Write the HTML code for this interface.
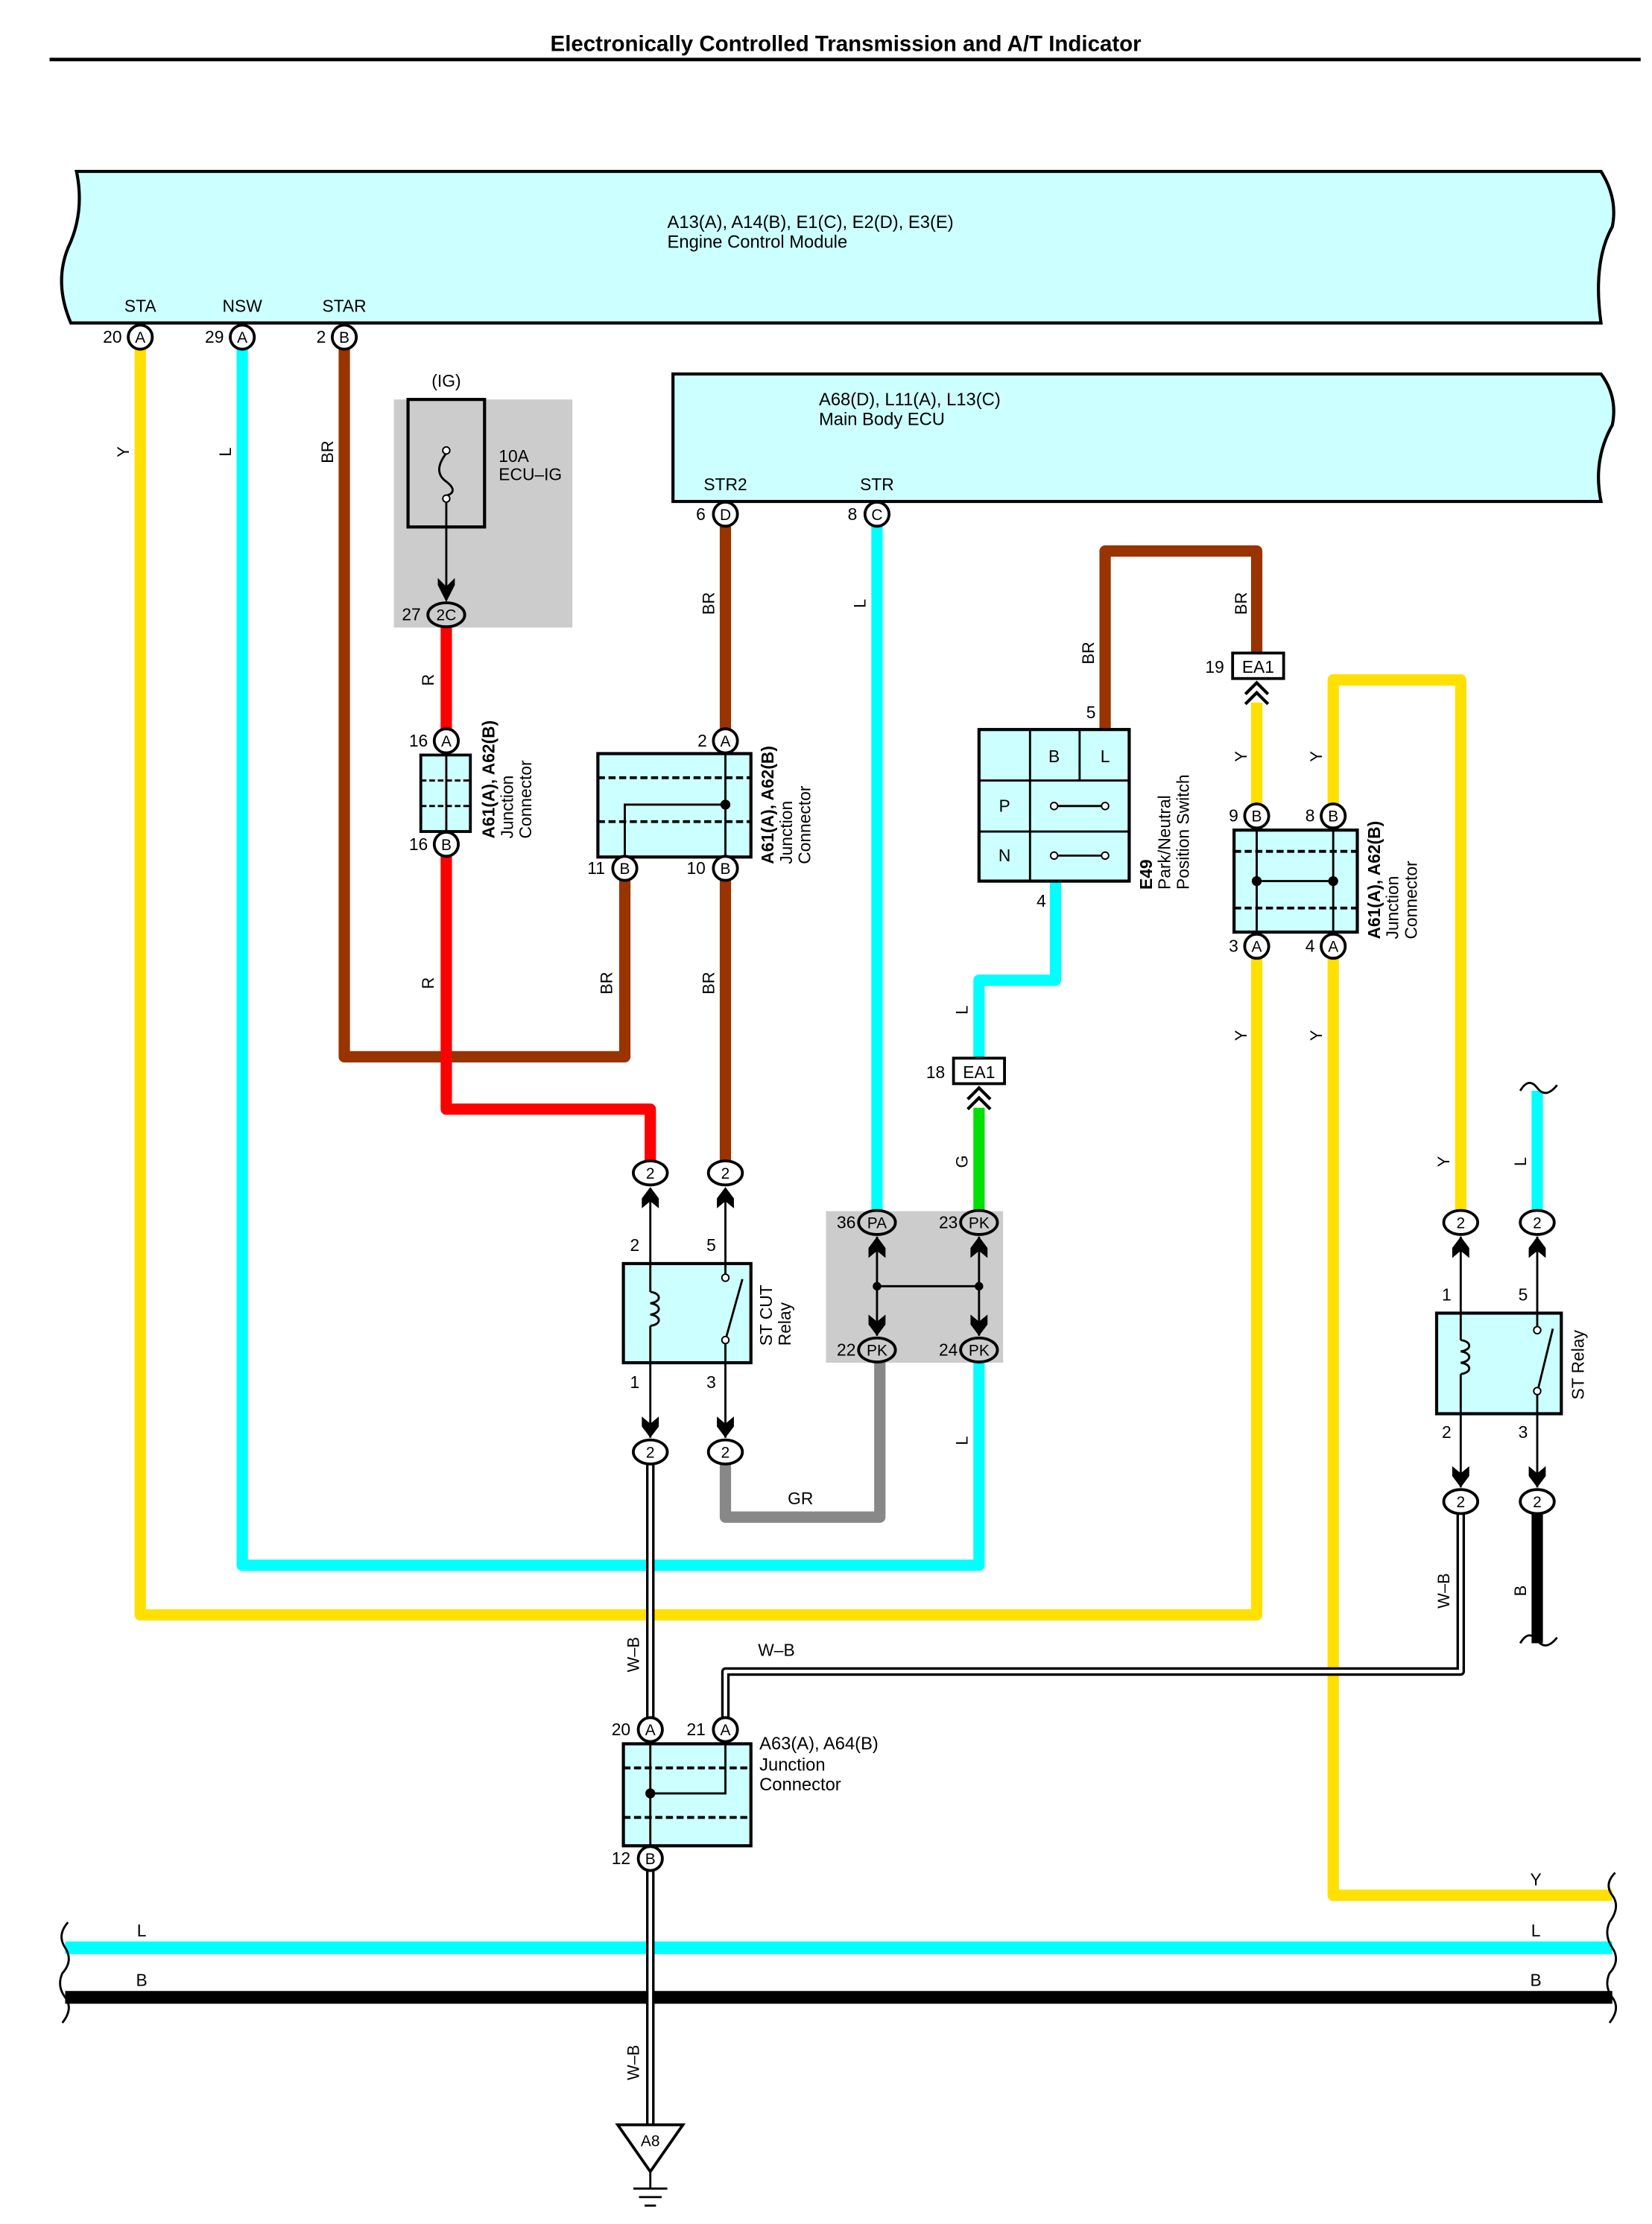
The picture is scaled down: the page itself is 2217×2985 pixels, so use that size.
<!DOCTYPE html>
<html><head><meta charset="utf-8"><style>
html,body{margin:0;padding:0;background:#fff}
svg{display:block}
text{font-family:"Liberation Sans",sans-serif;fill:#000}
</style></head><body>
<svg width="2217" height="2985" viewBox="0 0 1166 1570" preserveAspectRatio="none" xmlns="http://www.w3.org/2000/svg">
<rect width="1166" height="1570" fill="#fff"/>
<text x="597" y="36" font-size="15.5" font-weight="bold" text-anchor="middle">Electronically Controlled Transmission and A/T Indicator</text>
<line x1="35" y1="42" x2="1158" y2="42" stroke="#000" stroke-width="2.5"/>

<path d="M54,121 L1130,121 Q1142,140 1138,160 Q1124,185 1130,228 L50,228 Q38,200 48,175 Q60,150 54,121 Z" fill="#ccffff" stroke="#000" stroke-width="2.2"/>
<text x="471" y="161" font-size="12.5">A13(A), A14(B), E1(C), E2(D), E3(E)</text>
<text x="471" y="175" font-size="12.5">Engine Control Module</text>
<text x="99" y="220" font-size="12" text-anchor="middle">STA</text>
<text x="171" y="220" font-size="12" text-anchor="middle">NSW</text>
<text x="243" y="220" font-size="12" text-anchor="middle">STAR</text>

<path d="M475,264 L1130,264 Q1142,280 1138,300 Q1124,325 1130,354 L475,354 Z" fill="#ccffff" stroke="#000" stroke-width="2.2"/>
<text x="578" y="286" font-size="12.5">A68(D), L11(A), L13(C)</text>
<text x="578" y="300" font-size="12.5">Main Body ECU</text>
<text x="512" y="346" font-size="12" text-anchor="middle">STR2</text>
<text x="619" y="346" font-size="12" text-anchor="middle">STR</text>

<rect x="278" y="282" width="126" height="161" fill="#cccccc"/>
<rect x="583" y="855" width="125" height="107" fill="#cccccc"/>

<g fill="none" stroke-linejoin="round" stroke-linecap="butt">
<polyline points="99,246 99,1140 887,1140 887,676" stroke="#ffe000" stroke-width="8"/>
<polyline points="171,246 171,1105 691,1105 691,961" stroke="#00ffff" stroke-width="8"/>
<polyline points="243,246 243,746 441,746 441,621" stroke="#993300" stroke-width="8"/>
<polyline points="315,442 315,515" stroke="#ff0000" stroke-width="8"/>
<polyline points="315,604 315,783 459,783 459,820" stroke="#ff0000" stroke-width="8"/>
<line x1="512" y1="371" x2="512" y2="515" stroke="#993300" stroke-width="8"/>
<line x1="512" y1="621" x2="512" y2="820" stroke="#993300" stroke-width="8"/>
<line x1="619" y1="371" x2="619" y2="855" stroke="#00ffff" stroke-width="8"/>
<polyline points="745,622 745,692 691,692 691,748" stroke="#00ffff" stroke-width="8"/>
<line x1="691" y1="782" x2="691" y2="855" stroke="#00e000" stroke-width="8"/>
<polyline points="780,515 780,389 887,389 887,462" stroke="#993300" stroke-width="8"/>
<line x1="887" y1="496" x2="887" y2="568" stroke="#ffe000" stroke-width="8"/>
<polyline points="941,568 941,480 1031,480 1031,855" stroke="#ffe000" stroke-width="8"/>
<polyline points="941,676 941,1338 1138,1338" stroke="#ffe000" stroke-width="8"/>
<line x1="1085" y1="770" x2="1085" y2="855" stroke="#00ffff" stroke-width="8"/>
<line x1="1085" y1="1068" x2="1085" y2="1160" stroke="#000" stroke-width="8"/>
<polyline points="512,1033 512,1071 621,1071 621,961" stroke="#888888" stroke-width="8"/>
<line x1="46" y1="1375" x2="1138" y2="1375" stroke="#00ffff" stroke-width="9"/>
<line x1="46" y1="1410" x2="1138" y2="1410" stroke="#000" stroke-width="9"/>
<polyline points="459,1033 459,1212" stroke="#000" stroke-width="6"/>
<polyline points="459,1033 459,1212" stroke="#fff" stroke-width="2.5"/>
<polyline points="459,1320 459,1500" stroke="#000" stroke-width="6"/>
<polyline points="459,1320 459,1500" stroke="#fff" stroke-width="2.5"/>
<polyline points="1031,1068 1031,1180 512,1180 512,1212" stroke="#000" stroke-width="6"/>
<polyline points="1031,1068 1031,1180 512,1180 512,1212" stroke="#fff" stroke-width="2.5"/>
</g>

<g fill="none" stroke="#000" stroke-width="1.5">
<path d="M48,1357 Q40,1366 46,1375 Q52,1384 44,1393 Q40,1402 46,1410 Q52,1418 44,1428"/>
<path d="M1140,1322 Q1132,1330 1138,1338 Q1144,1346 1136,1357 Q1132,1366 1138,1375 Q1144,1384 1136,1393 Q1132,1402 1138,1410 Q1144,1418 1136,1428"/>
<path d="M1073,770 Q1079,760 1085,768 Q1091,776 1099,766"/>
<path d="M1073,1160 Q1079,1150 1085,1158 Q1091,1166 1099,1156"/>
</g>

<rect x="288" y="282" width="54" height="90" fill="none" stroke="#000" stroke-width="2.2"/>
<path d="M315,320 Q305,333 315,340 Q324,347 315,350" fill="none" stroke="#000" stroke-width="1.5"/>
<circle cx="315" cy="318" r="2.5" fill="#fff" stroke="#000"/><circle cx="315" cy="352" r="2.5" fill="#fff" stroke="#000"/>
<line x1="315" y1="355" x2="315" y2="420" stroke="#000" stroke-width="1.5"/>
<polygon points="315,425 309,413 309,408 315,414 321,408 321,413" fill="#000"/>
<text x="315" y="273" font-size="12" text-anchor="middle">(IG)</text>
<text x="352" y="326" font-size="12">10A</text>
<text x="352" y="339" font-size="12">ECU–IG</text>

<rect x="297" y="533" width="35" height="54" fill="#ccffff" stroke="#000" stroke-width="2"/>
<line x1="315" y1="533" x2="315" y2="587" stroke="#000" stroke-width="1.5"/>
<line x1="297" y1="551" x2="332" y2="551" stroke="#000" stroke-width="1.5" stroke-dasharray="4,2"/>
<line x1="297" y1="569" x2="332" y2="569" stroke="#000" stroke-width="1.5" stroke-dasharray="4,2"/>

<rect x="422" y="532" width="108" height="73" fill="#ccffff" stroke="#000" stroke-width="2.2"/>
<line x1="422" y1="549" x2="530" y2="549" stroke="#000" stroke-width="2" stroke-dasharray="5,2.5"/>
<line x1="422" y1="580" x2="530" y2="580" stroke="#000" stroke-width="2" stroke-dasharray="5,2.5"/>
<polyline points="512,532 512,605" fill="none" stroke="#000" stroke-width="1.5"/>
<polyline points="512,568 441,568 441,605" fill="none" stroke="#000" stroke-width="1.5"/>
<circle cx="512" cy="568" r="3.5" fill="#000"/>

<rect x="691" y="515" width="106" height="107" fill="#ccffff" stroke="#000" stroke-width="2.2"/>
<line x1="727" y1="515" x2="727" y2="622" stroke="#000" stroke-width="1.5"/>
<line x1="762" y1="515" x2="762" y2="551" stroke="#000" stroke-width="1.5"/>
<line x1="691" y1="551" x2="797" y2="551" stroke="#000" stroke-width="1.5"/>
<line x1="691" y1="587" x2="797" y2="587" stroke="#000" stroke-width="1.5"/>
<text x="744" y="538" font-size="12" text-anchor="middle">B</text>
<text x="780" y="538" font-size="12" text-anchor="middle">L</text>
<text x="709" y="573" font-size="12" text-anchor="middle">P</text>
<text x="709" y="608" font-size="12" text-anchor="middle">N</text>
<line x1="744" y1="569" x2="780" y2="569" stroke="#000" stroke-width="1.5"/>
<line x1="744" y1="604" x2="780" y2="604" stroke="#000" stroke-width="1.5"/>
<circle cx="744" cy="569" r="2.5" fill="#fff" stroke="#000"/><circle cx="780" cy="569" r="2.5" fill="#fff" stroke="#000"/>
<circle cx="744" cy="604" r="2.5" fill="#fff" stroke="#000"/><circle cx="780" cy="604" r="2.5" fill="#fff" stroke="#000"/>
<text x="770" y="507" font-size="12" text-anchor="middle">5</text>
<text x="735" y="640" font-size="12" text-anchor="middle">4</text>

<rect x="871" y="586" width="87" height="72" fill="#ccffff" stroke="#000" stroke-width="2.2"/>
<line x1="871" y1="601" x2="958" y2="601" stroke="#000" stroke-width="2" stroke-dasharray="5,2.5"/>
<line x1="871" y1="641" x2="958" y2="641" stroke="#000" stroke-width="2" stroke-dasharray="5,2.5"/>
<line x1="887" y1="586" x2="887" y2="658" stroke="#000" stroke-width="1.5"/>
<line x1="941" y1="586" x2="941" y2="658" stroke="#000" stroke-width="1.5"/>
<line x1="887" y1="622" x2="941" y2="622" stroke="#000" stroke-width="1.5"/>
<circle cx="887" cy="622" r="3.5" fill="#000"/><circle cx="941" cy="622" r="3.5" fill="#000"/>

<rect x="870" y="461" width="36" height="18" fill="#fff" stroke="#000" stroke-width="2"/>
<text x="888" y="475" font-size="12" text-anchor="middle">EA1</text>
<text x="864" y="475" font-size="12" text-anchor="end">19</text>
<polyline points="879,490 887,482 895,490" fill="none" stroke="#000" stroke-width="2.2"/>
<polyline points="879,497 887,489 895,497" fill="none" stroke="#000" stroke-width="2.2"/>
<rect x="673" y="747" width="36" height="18" fill="#fff" stroke="#000" stroke-width="2"/>
<text x="691" y="761" font-size="12" text-anchor="middle">EA1</text>
<text x="667" y="761" font-size="12" text-anchor="end">18</text>
<polyline points="683,776 691,768 699,776" fill="none" stroke="#000" stroke-width="2.2"/>
<polyline points="683,783 691,775 699,783" fill="none" stroke="#000" stroke-width="2.2"/>

<!-- ST CUT relay -->
<line x1="459" y1="840" x2="459" y2="1015" stroke="#000" stroke-width="1.5"/>
<line x1="512" y1="840" x2="512" y2="1015" stroke="#000" stroke-width="1.5"/>
<rect x="440" y="892" width="90" height="70" fill="#ccffff" stroke="#000" stroke-width="2.2"/>
<line x1="459" y1="892" x2="459" y2="912" stroke="#000" stroke-width="1.5"/>
<line x1="459" y1="936" x2="459" y2="962" stroke="#000" stroke-width="1.5"/>
<path d="M459,912 c8,1 8,7 0,8 c8,1 8,7 0,8 c8,1 8,7 0,8" fill="none" stroke="#000" stroke-width="1.5"/>
<rect x="508" y="894" width="8" height="66" fill="#ccffff"/>
<line x1="512" y1="892" x2="512" y2="900" stroke="#000" stroke-width="1.5"/>
<line x1="512" y1="946" x2="512" y2="962" stroke="#000" stroke-width="1.5"/>
<line x1="512" y1="946" x2="524" y2="903" stroke="#000" stroke-width="1.5"/>
<circle cx="512" cy="902" r="2.5" fill="#fff" stroke="#000"/><circle cx="512" cy="946" r="2.5" fill="#fff" stroke="#000"/>
<text x="448" y="883" font-size="12" text-anchor="middle">2</text>
<text x="502" y="883" font-size="12" text-anchor="middle">5</text>
<text x="448" y="980" font-size="12" text-anchor="middle">1</text>
<text x="502" y="980" font-size="12" text-anchor="middle">3</text>

<!-- ST relay -->
<line x1="1031" y1="873" x2="1031" y2="1050" stroke="#000" stroke-width="1.5"/>
<line x1="1085" y1="873" x2="1085" y2="1050" stroke="#000" stroke-width="1.5"/>
<rect x="1014" y="927" width="88" height="71" fill="#ccffff" stroke="#000" stroke-width="2.2"/>
<line x1="1031" y1="927" x2="1031" y2="946" stroke="#000" stroke-width="1.5"/>
<path d="M1031,946 c8,1 8,7 0,8 c8,1 8,7 0,8 c8,1 8,7 0,8" fill="none" stroke="#000" stroke-width="1.5"/>
<line x1="1031" y1="970" x2="1031" y2="998" stroke="#000" stroke-width="1.5"/>
<rect x="1081" y="929" width="8" height="67" fill="#ccffff"/>
<line x1="1085" y1="927" x2="1085" y2="937" stroke="#000" stroke-width="1.5"/>
<line x1="1085" y1="983" x2="1085" y2="998" stroke="#000" stroke-width="1.5"/>
<line x1="1085" y1="983" x2="1096" y2="938" stroke="#000" stroke-width="1.5"/>
<circle cx="1085" cy="939" r="2.5" fill="#fff" stroke="#000"/><circle cx="1085" cy="982" r="2.5" fill="#fff" stroke="#000"/>
<text x="1021" y="918" font-size="12" text-anchor="middle">1</text>
<text x="1075" y="918" font-size="12" text-anchor="middle">5</text>
<text x="1021" y="1015" font-size="12" text-anchor="middle">2</text>
<text x="1075" y="1015" font-size="12" text-anchor="middle">3</text>

<line x1="619" y1="873" x2="619" y2="943" stroke="#000" stroke-width="1.5"/>
<line x1="691" y1="873" x2="691" y2="943" stroke="#000" stroke-width="1.5"/>
<line x1="619" y1="908" x2="691" y2="908" stroke="#000" stroke-width="1.5"/>
<circle cx="619" cy="908" r="3" fill="#000"/><circle cx="691" cy="908" r="3" fill="#000"/>

<g fill="#000">
<polygon points="459,838 465,846 465,853 459,848 453,853 453,846"/>
<polygon points="512,838 518,846 518,853 512,848 506,853 506,846"/>
<polygon points="459,1015 465,1007 465,1000 459,1005 453,1000 453,1007"/>
<polygon points="512,1015 518,1007 518,1000 512,1005 506,1000 506,1007"/>
<polygon points="619,873 625,881 625,888 619,883 613,888 613,881"/>
<polygon points="691,873 697,881 697,888 691,883 685,888 685,881"/>
<polygon points="619,943 625,935 625,928 619,933 613,928 613,935"/>
<polygon points="691,943 697,935 697,928 691,933 685,928 685,935"/>
<polygon points="1031,873 1037,881 1037,888 1031,883 1025,888 1025,881"/>
<polygon points="1085,873 1091,881 1091,888 1085,883 1079,888 1079,881"/>
<polygon points="1031,1050 1037,1042 1037,1035 1031,1040 1025,1035 1025,1042"/>
<polygon points="1085,1050 1091,1042 1091,1035 1085,1040 1079,1035 1079,1042"/>
</g>

<rect x="440" y="1231" width="90" height="72" fill="#ccffff" stroke="#000" stroke-width="2.2"/>
<line x1="440" y1="1248" x2="530" y2="1248" stroke="#000" stroke-width="2" stroke-dasharray="5,2.5"/>
<line x1="440" y1="1283" x2="530" y2="1283" stroke="#000" stroke-width="2" stroke-dasharray="5,2.5"/>
<line x1="459" y1="1231" x2="459" y2="1303" stroke="#000" stroke-width="1.5"/>
<polyline points="512,1231 512,1266 459,1266" fill="none" stroke="#000" stroke-width="1.5"/>
<circle cx="459" cy="1266" r="3.5" fill="#000"/>
<text x="536" y="1235" font-size="12.5">A63(A), A64(B)</text>
<text x="536" y="1250" font-size="12.5">Junction</text>
<text x="536" y="1264" font-size="12.5">Connector</text>

<polygon points="436,1500 482,1500 459,1533" fill="#fff" stroke="#000" stroke-width="2"/>
<text x="459" y="1515" font-size="11" text-anchor="middle">A8</text>
<line x1="459" y1="1533" x2="459" y2="1545" stroke="#000" stroke-width="1.5"/>
<line x1="447" y1="1545" x2="471" y2="1545" stroke="#000" stroke-width="1.5"/>
<line x1="451" y1="1551" x2="467" y2="1551" stroke="#000" stroke-width="1.5"/>
<line x1="455" y1="1557" x2="463" y2="1557" stroke="#000" stroke-width="1.5"/>

<g font-size="11" text-anchor="middle">
<g fill="#fff" stroke="#000" stroke-width="2">
<circle cx="99" cy="238" r="8.5"/><circle cx="171" cy="238" r="8.5"/><circle cx="243" cy="238" r="8.5"/>
<circle cx="512" cy="363" r="8.5"/><circle cx="619" cy="363" r="8.5"/>
<circle cx="315" cy="523" r="8.5"/><circle cx="315" cy="596" r="8.5"/>
<circle cx="512" cy="523" r="8.5"/><circle cx="441" cy="613" r="8.5"/><circle cx="512" cy="613" r="8.5"/>
<circle cx="887" cy="576" r="8.5"/><circle cx="941" cy="576" r="8.5"/><circle cx="887" cy="668" r="8.5"/><circle cx="941" cy="668" r="8.5"/>
<circle cx="459" cy="1221" r="8.5"/><circle cx="512" cy="1221" r="8.5"/><circle cx="459" cy="1312" r="8.5"/>
<ellipse cx="315" cy="434" rx="13" ry="8.5" fill="#ccc"/>
<ellipse cx="459" cy="828" rx="12" ry="8.5"/><ellipse cx="512" cy="828" rx="12" ry="8.5"/>
<ellipse cx="459" cy="1025" rx="12" ry="8.5"/><ellipse cx="512" cy="1025" rx="12" ry="8.5"/>
<ellipse cx="1031" cy="863" rx="12" ry="8.5"/><ellipse cx="1085" cy="863" rx="12" ry="8.5"/>
<ellipse cx="1031" cy="1060" rx="12" ry="8.5"/><ellipse cx="1085" cy="1060" rx="12" ry="8.5"/>
<ellipse cx="619" cy="863" rx="13" ry="8.5" fill="#ccc"/><ellipse cx="691" cy="863" rx="13" ry="8.5" fill="#ccc"/>
<ellipse cx="619" cy="953" rx="13" ry="8.5" fill="#ccc"/><ellipse cx="691" cy="953" rx="13" ry="8.5" fill="#ccc"/>
</g>
<text x="99" y="242">A</text><text x="171" y="242">A</text><text x="243" y="242">B</text>
<text x="512" y="367">D</text><text x="619" y="367">C</text>
<text x="315" y="527">A</text><text x="315" y="600">B</text>
<text x="512" y="527">A</text><text x="441" y="617">B</text><text x="512" y="617">B</text>
<text x="887" y="580">B</text><text x="941" y="580">B</text><text x="887" y="672">A</text><text x="941" y="672">A</text>
<text x="459" y="1225">A</text><text x="512" y="1225">A</text><text x="459" y="1316">B</text>
<text x="315" y="438">2C</text>
<text x="459" y="832">2</text><text x="512" y="832">2</text><text x="459" y="1029">2</text><text x="512" y="1029">2</text>
<text x="1031" y="867">2</text><text x="1085" y="867">2</text><text x="1031" y="1064">2</text><text x="1085" y="1064">2</text>
<text x="619" y="867">PA</text><text x="691" y="867">PK</text><text x="619" y="957">PK</text><text x="691" y="957">PK</text>
</g>

<g font-size="12" text-anchor="end">
<text x="86" y="242">20</text><text x="158" y="242">29</text><text x="230" y="242">2</text>
<text x="498" y="367">6</text><text x="605" y="367">8</text>
<text x="297" y="438">27</text>
<text x="302" y="527">16</text><text x="302" y="600">16</text>
<text x="499" y="527">2</text><text x="427" y="617">11</text><text x="498" y="617">10</text>
<text x="874" y="580">9</text><text x="928" y="580">8</text><text x="874" y="672">3</text><text x="928" y="672">4</text>
<text x="604" y="867">36</text><text x="676" y="867">23</text><text x="604" y="957">22</text><text x="676" y="957">24</text>
<text x="445" y="1225">20</text><text x="498" y="1225">21</text><text x="445" y="1316">12</text>
</g>

<g font-size="11.5" text-anchor="middle">
<text transform="translate(91,319) rotate(-90)">Y</text>
<text transform="translate(163,319) rotate(-90)">L</text>
<text transform="translate(235,319) rotate(-90)">BR</text>
<text transform="translate(306,480) rotate(-90)">R</text>
<text transform="translate(306,694) rotate(-90)">R</text>
<text transform="translate(432,694) rotate(-90)">BR</text>
<text transform="translate(504,694) rotate(-90)">BR</text>
<text transform="translate(504,426) rotate(-90)">BR</text>
<text transform="translate(611,426) rotate(-90)">L</text>
<text transform="translate(772,461) rotate(-90)">BR</text>
<text transform="translate(880,426) rotate(-90)">BR</text>
<text transform="translate(880,534) rotate(-90)">Y</text>
<text transform="translate(933,534) rotate(-90)">Y</text>
<text transform="translate(880,731) rotate(-90)">Y</text>
<text transform="translate(933,731) rotate(-90)">Y</text>
<text transform="translate(683,713) rotate(-90)">L</text>
<text transform="translate(683,820) rotate(-90)">G</text>
<text transform="translate(683,1017) rotate(-90)">L</text>
<text transform="translate(1023,820) rotate(-90)">Y</text>
<text transform="translate(1077,820) rotate(-90)">L</text>
<text transform="translate(1023,1123) rotate(-90)">W–B</text>
<text transform="translate(1077,1123) rotate(-90)">B</text>
<text transform="translate(451,1168) rotate(-90)">W–B</text>
<text transform="translate(451,1456) rotate(-90)">W–B</text>
</g>
<g font-size="12" text-anchor="middle">
<text x="565" y="1062">GR</text>
<text x="548" y="1169">W–B</text>
<text x="1084" y="1331">Y</text>
<text x="100" y="1367">L</text><text x="1084" y="1367">L</text>
<text x="100" y="1402">B</text><text x="1084" y="1402">B</text>
</g>

<g font-size="12">
<text transform="translate(349,592) rotate(-90)" font-weight="bold">A61(A), A62(B)</text>
<text transform="translate(362,592) rotate(-90)">Junction</text>
<text transform="translate(375,592) rotate(-90)">Connector</text>
<text transform="translate(546,610) rotate(-90)" font-weight="bold">A61(A), A62(B)</text>
<text transform="translate(559,610) rotate(-90)">Junction</text>
<text transform="translate(572,610) rotate(-90)">Connector</text>
<text transform="translate(813,628) rotate(-90)" font-weight="bold">E49</text>
<text transform="translate(826,628) rotate(-90)">Park/Neutral</text>
<text transform="translate(839,628) rotate(-90)">Position Switch</text>
<text transform="translate(974,663) rotate(-90)" font-weight="bold">A61(A), A62(B)</text>
<text transform="translate(987,663) rotate(-90)">Junction</text>
<text transform="translate(1000,663) rotate(-90)">Connector</text>
<text transform="translate(545,950) rotate(-90)">ST CUT</text>
<text transform="translate(558,950) rotate(-90)">Relay</text>
<text transform="translate(1118,988) rotate(-90)">ST Relay</text>
</g>
</svg>
</body></html>
